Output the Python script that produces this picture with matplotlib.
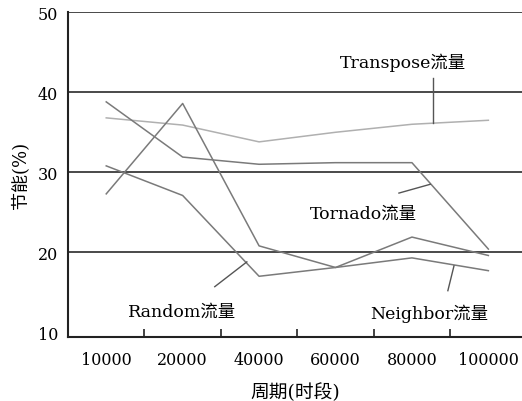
import numpy as np
import matplotlib
matplotlib.use("Agg")
import matplotlib.pyplot as plt

plt.rcParams['font.family'] = ['DejaVu Serif', 'Noto Sans CJK SC']

periods = ["10000", "20000", "40000", "60000", "80000", "100000"]
transpose = [36.8, 35.9, 33.8, 35.0, 36.0, 36.5]
tornado = [38.8, 31.9, 31.0, 31.2, 31.2, 20.4]
random_ = [27.3, 38.6, 20.8, 18.1, 21.9, 19.6]
neighbor = [30.8, 27.1, 17.0, 18.1, 19.3, 17.7]

# label text, label centre, leader start, leader end (data coords)
labels = [
    ("Transpose流量", (3.88, 43.8), (4.27, 41.8), (4.27, 36.2)),
    ("Tornado流量", (3.36, 24.9), (3.83, 27.4), (4.24, 28.5)),
    ("Random流量", (0.99, 12.6), (1.42, 15.7), (1.84, 18.8)),
    ("Neighbor流量", (4.22, 12.4), (4.47, 15.2), (4.55, 18.3)),
]

x = np.arange(len(periods))

fig = plt.figure(figsize=(5.22, 4.02), dpi=100)
ax = fig.add_axes([0.1303, 0.159, 0.8697, 0.808])

for v in [20, 30, 40, 50]:
    ax.axhline(v, color="#3a3a3a", lw=1.3, zorder=1)

ax.plot(x, transpose, color="#b0b0b0", lw=1.1, zorder=2)
ax.plot(x, tornado, color="#7a7a7a", lw=1.1, zorder=2)
ax.plot(x, random_, color="#7a7a7a", lw=1.1, zorder=2)
ax.plot(x, neighbor, color="#7a7a7a", lw=1.1, zorder=2)

ax.set_xlim(-0.5, 5.44)
ax.set_ylim(9.4, 50)

ax.set_xticks(x)
ax.set_xticklabels(periods, fontsize=11.5)
ax.set_xticks(x[:-1] + 0.5, minor=True)
ax.tick_params(axis="x", which="major", length=0, pad=10)
ax.tick_params(axis="x", which="minor", direction="in", length=6, width=1.2, color="#222")
ax.set_yticks([10, 20, 30, 40, 50])
ax.tick_params(axis="y", length=0, labelsize=11.5, pad=7)

for s in ["top", "right"]:
    ax.spines[s].set_visible(False)
for s in ["left", "bottom"]:
    ax.spines[s].set_linewidth(1.5)
    ax.spines[s].set_color("#222")

ax.set_xlabel("周期(时段)", fontsize=13.5, labelpad=10)
ax.set_ylabel("节能(%)", fontsize=13, labelpad=6)

for text, pos, p0, p1 in labels:
    ax.text(pos[0], pos[1], text, ha="center", va="center", fontsize=12.5)
    ax.plot([p0[0], p1[0]], [p0[1], p1[1]], color="#555", lw=1.0, zorder=3)

fig.savefig("out.png", dpi=100)
